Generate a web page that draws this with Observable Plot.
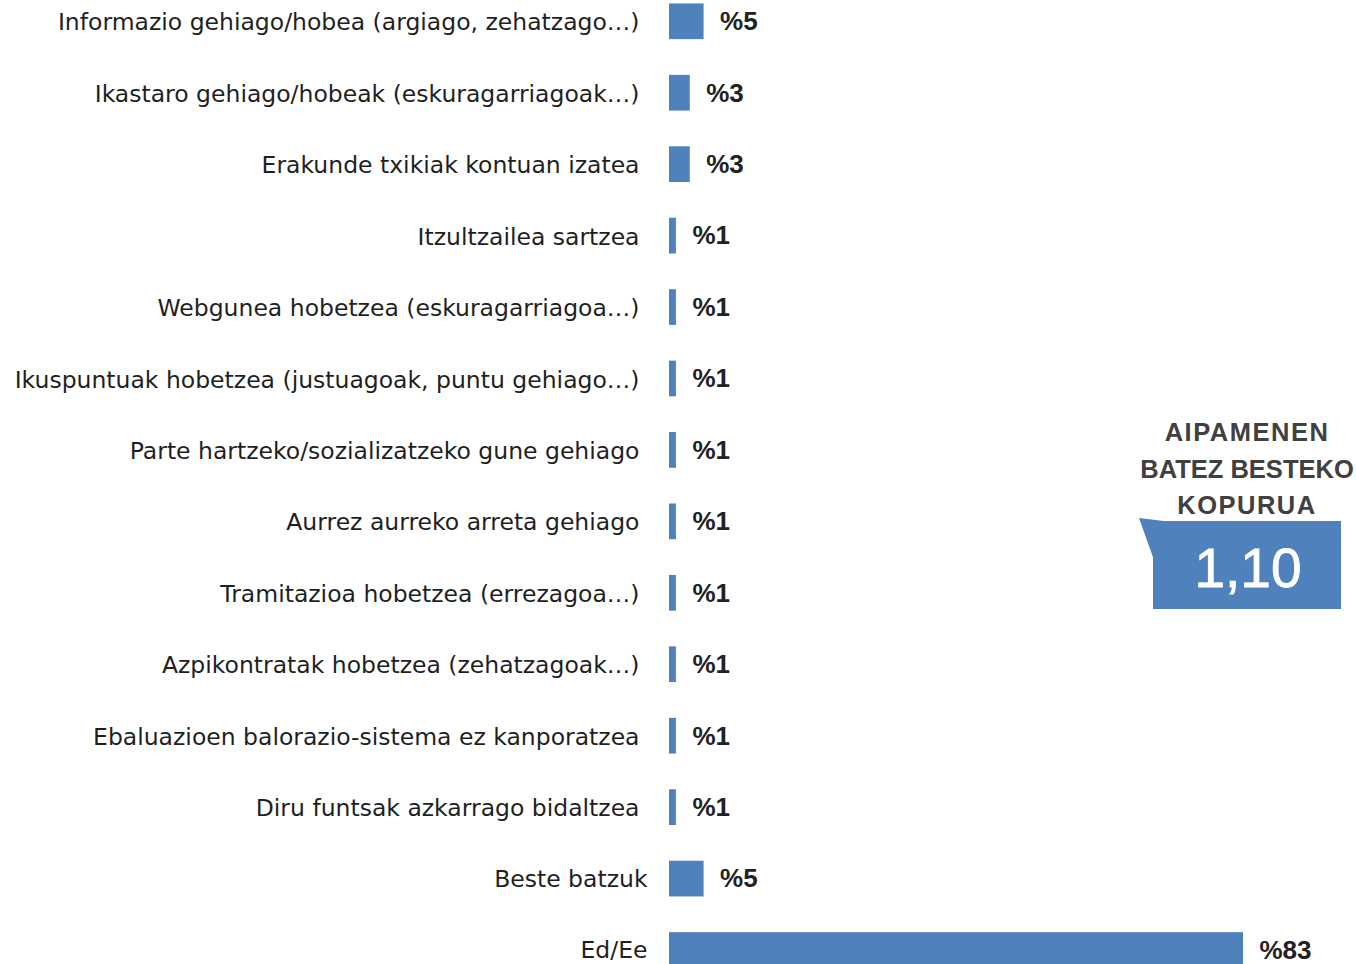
<!DOCTYPE html>
<html>
<head>
<meta charset="utf-8">
<script src="https://cdn.jsdelivr.net/npm/d3@7"></script>
<script src="https://cdn.jsdelivr.net/npm/@observablehq/plot@0.6"></script>
<style>
  html, body { margin: 0; padding: 0; background: #fff; overflow: hidden; }
  #chart svg { display: block; }
</style>
</head>
<body>
<div id="chart"></div>
<script>
const categories = [
  "Informazio gehiago/hobea (argiago, zehatzago…)",
  "Ikastaro gehiago/hobeak (eskuragarriagoak…)",
  "Erakunde txikiak kontuan izatea",
  "Itzultzailea sartzea",
  "Webgunea hobetzea (eskuragarriagoa…)",
  "Ikuspuntuak hobetzea (justuagoak, puntu gehiago…)",
  "Parte hartzeko/sozializatzeko gune gehiago",
  "Aurrez aurreko arreta gehiago",
  "Tramitazioa hobetzea (errezagoa…)",
  "Azpikontratak hobetzea (zehatzagoak…)",
  "Ebaluazioen balorazio-sistema ez kanporatzea",
  "Diru funtsak azkarrago bidaltzea",
  "Beste batzuk",
  "Ed/Ee"
];
const values = [5, 3, 3, 1, 1, 1, 1, 1, 1, 1, 1, 1, 5, 83];
const summaryTitle = ["AIPAMENEN", "BATEZ BESTEKO", "KOPURUA"];
const summaryValue = "1,10";

const data = categories.map((c, i) => ({category: c, value: values[i], idx: i}));
const mainRows = data.slice(0, 12);
const lastRows = data.slice(12);

const blue = "#4f81bd";
const labelFont = "DejaVu Sans, sans-serif";

const plot = Plot.plot({
  width: 1356,
  height: 964,
  margin: 0,
  style: {background: "#fff", overflow: "hidden"},
  x: {domain: [0, 83], range: [669, 1243], axis: null},
  y: {domain: categories, range: [-32.3, 1003.6], padding: 0.5, round: false, axis: null},
  marks: [
    Plot.barX(data, {x: "value", y: "category", fill: blue}),
    Plot.text(mainRows, {
      x: 0, y: "category", text: "category", dx: -30, dy: 1, textAnchor: "end",
      fontSize: 23.5, fill: "#1f1f1f", fontFamily: labelFont
    }),
    Plot.text(lastRows, {
      x: 0, y: "category", text: "category", dx: -22, textAnchor: "end",
      fontSize: 23.5, fill: "#1f1f1f", fontFamily: labelFont
    }),
    Plot.text(data, {
      x: "value", y: "category", text: d => "%" + d.value, dx: 16, textAnchor: "start",
      fontSize: 26, fontWeight: "bold", fill: "#222", fontFamily: "Liberation Sans, Arial, sans-serif"
    })
  ]
});

// Summary callout (annotation outside the data scales)
const svg = d3.select(plot);
const g = svg.append("g");
g.append("polygon")
  .attr("points", "1139,518 1172,522 1154,560")
  .attr("fill", blue);
g.append("rect")
  .attr("x", 1153).attr("y", 521).attr("width", 188).attr("height", 88)
  .attr("fill", blue);
g.append("text")
  .attr("x", 1248).attr("y", 587)
  .attr("text-anchor", "middle")
  .attr("font-family", "Liberation Sans, Arial, sans-serif")
  .attr("font-size", 55)
  .attr("font-weight", 500)
  .attr("stroke", "#fff")
  .attr("stroke-width", 0.8)
  .attr("fill", "#fff")
  .text(summaryValue);
summaryTitle.forEach((t, i) => {
  g.append("text")
    .attr("x", 1247).attr("y", 441 + i * 36.5)
    .attr("text-anchor", "middle")
    .attr("font-family", "Liberation Sans, Arial, sans-serif")
    .attr("font-weight", "bold")
    .attr("font-size", 25.5)
    .attr("letter-spacing", i === 1 ? 0 : 1.5)
    .attr("fill", "#404040")
    .text(t);
});

document.getElementById("chart").appendChild(plot);
</script>
</body>
</html>
